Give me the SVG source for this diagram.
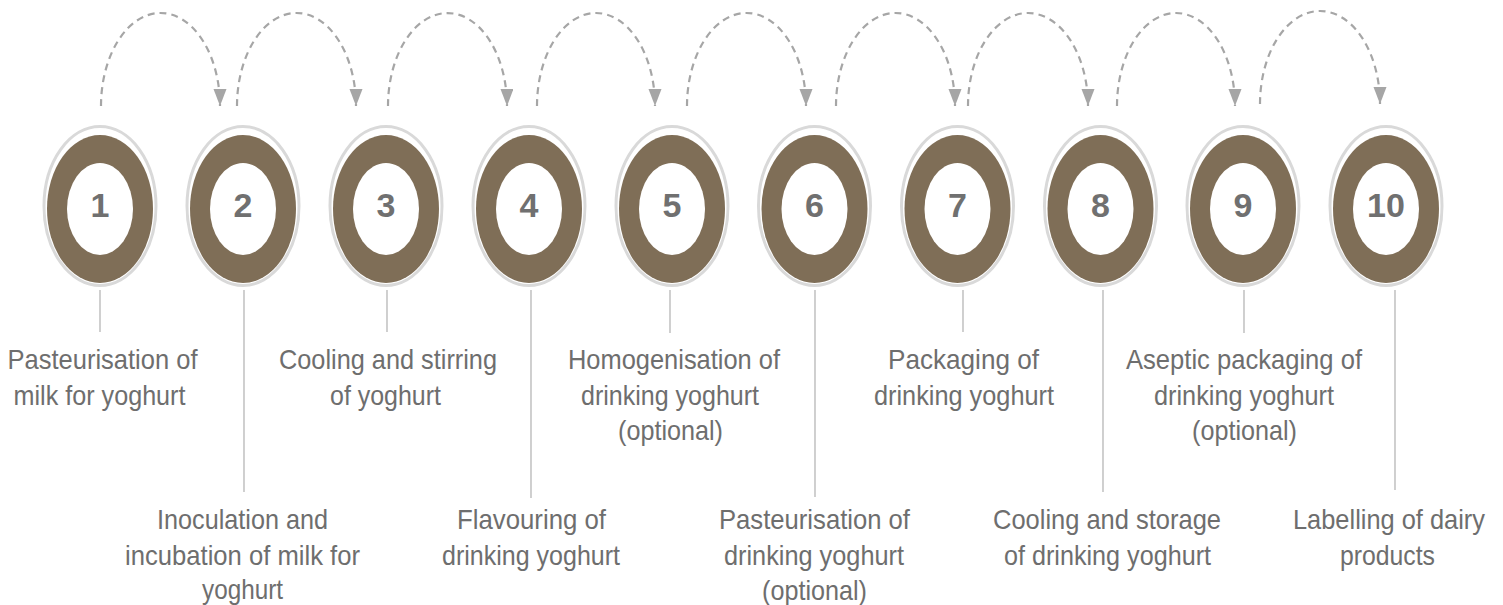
<svg xmlns="http://www.w3.org/2000/svg" width="1503" height="605" viewBox="0 0 1503 605">
<style>
.ring{fill:#ffffff;stroke:#d9d9d9;stroke-width:3}
.band{fill:#7f6e57}
.hole{fill:#ffffff}
.num{font-family:"Liberation Sans",Arial,sans-serif;font-weight:bold;font-size:34px;fill:#707070;text-anchor:middle}
.lbl{font-family:"Liberation Sans",Arial,sans-serif;font-size:28px;fill:#6e6e6e;text-anchor:middle}
.lead{stroke:#c4c4c4;stroke-width:1.6;fill:none}
.arc{fill:none;stroke:#a6a6a6;stroke-width:2.2;stroke-dasharray:7 5}
</style>
<defs>
<marker id="ah" markerUnits="userSpaceOnUse" markerWidth="18" markerHeight="14" refX="17" refY="6.5" orient="auto">
<path d="M0,0 L17,6.5 L0,13 Z" fill="#a6a6a6"/>
</marker>
<g id="disc">
<ellipse class="ring" cx="0" cy="-3" rx="56" ry="79.5"/>
<ellipse class="band" cx="0" cy="0" rx="53" ry="74"/>
<ellipse class="hole" cx="0" cy="0" rx="33" ry="46"/>
</g>
</defs>
<g id="connectors">
<path class="arc" d="M101,106 A59.5,93 0 0 1 220,106" marker-end="url(#ah)"/>
<path class="arc" d="M237,106 A59.5,93 0 0 1 356,106" marker-end="url(#ah)"/>
<path class="arc" d="M388,106 A59.5,93 0 0 1 507,106" marker-end="url(#ah)"/>
<path class="arc" d="M537,106 A59,93 0 0 1 655,106" marker-end="url(#ah)"/>
<path class="arc" d="M687,106 A59.5,93 0 0 1 806,106" marker-end="url(#ah)"/>
<path class="arc" d="M836,106 A59.5,93 0 0 1 955,106" marker-end="url(#ah)"/>
<path class="arc" d="M968,106 A60,93 0 0 1 1088,106" marker-end="url(#ah)"/>
<path class="arc" d="M1117,106 A59,93 0 0 1 1235,106" marker-end="url(#ah)"/>
<path class="arc" d="M1260,104 A60,93 0 0 1 1380,104" marker-end="url(#ah)"/>
<line class="lead" x1="100" y1="290" x2="100" y2="332"/>
<line class="lead" x1="244" y1="290" x2="244" y2="492"/>
<line class="lead" x1="387" y1="290" x2="387" y2="332"/>
<line class="lead" x1="531" y1="290" x2="531" y2="498"/>
<line class="lead" x1="670" y1="290" x2="670" y2="333"/>
<line class="lead" x1="815" y1="290" x2="815" y2="497"/>
<line class="lead" x1="963" y1="290" x2="963" y2="332"/>
<line class="lead" x1="1103" y1="290" x2="1103" y2="492"/>
<line class="lead" x1="1244" y1="290" x2="1244" y2="333"/>
<line class="lead" x1="1395" y1="290" x2="1395" y2="490"/>
</g>
<g id="node1">
<use href="#disc" x="100" y="209"/>
<text class="num" x="100" y="217">1</text>
<text class="lbl" x="102.5" y="369" textLength="190" lengthAdjust="spacingAndGlyphs">Pasteurisation of</text>
<text class="lbl" x="99.5" y="404.5" textLength="172" lengthAdjust="spacingAndGlyphs">milk for yoghurt</text>
</g>
<g id="node2">
<use href="#disc" x="243" y="209"/>
<text class="num" x="243" y="217">2</text>
<text class="lbl" x="242.5" y="529" textLength="171" lengthAdjust="spacingAndGlyphs">Inoculation and</text>
<text class="lbl" x="242.5" y="564.5" textLength="235" lengthAdjust="spacingAndGlyphs">incubation of milk for</text>
<text class="lbl" x="242.5" y="599" textLength="81" lengthAdjust="spacingAndGlyphs">yoghurt</text>
</g>
<g id="node3">
<use href="#disc" x="386" y="209"/>
<text class="num" x="386" y="217">3</text>
<text class="lbl" x="388" y="369" textLength="218" lengthAdjust="spacingAndGlyphs">Cooling and stirring</text>
<text class="lbl" x="385.5" y="404.5" textLength="111" lengthAdjust="spacingAndGlyphs">of yoghurt</text>
</g>
<g id="node4">
<use href="#disc" x="529" y="209"/>
<text class="num" x="529" y="217">4</text>
<text class="lbl" x="531.5" y="529" textLength="149" lengthAdjust="spacingAndGlyphs">Flavouring of</text>
<text class="lbl" x="531" y="564.5" textLength="178" lengthAdjust="spacingAndGlyphs">drinking yoghurt</text>
</g>
<g id="node5">
<use href="#disc" x="672" y="209"/>
<text class="num" x="672" y="217">5</text>
<text class="lbl" x="674" y="369" textLength="212" lengthAdjust="spacingAndGlyphs">Homogenisation of</text>
<text class="lbl" x="670" y="404.5" textLength="178" lengthAdjust="spacingAndGlyphs">drinking yoghurt</text>
<text class="lbl" x="670.5" y="440" textLength="105" lengthAdjust="spacingAndGlyphs">(optional)</text>
</g>
<g id="node6">
<use href="#disc" x="814.5" y="209"/>
<text class="num" x="814.5" y="217">6</text>
<text class="lbl" x="814.5" y="529" textLength="191" lengthAdjust="spacingAndGlyphs">Pasteurisation of</text>
<text class="lbl" x="814" y="564.5" textLength="180" lengthAdjust="spacingAndGlyphs">drinking yoghurt</text>
<text class="lbl" x="814.5" y="600" textLength="105" lengthAdjust="spacingAndGlyphs">(optional)</text>
</g>
<g id="node7">
<use href="#disc" x="957.5" y="209"/>
<text class="num" x="957.5" y="217">7</text>
<text class="lbl" x="963.5" y="369" textLength="151" lengthAdjust="spacingAndGlyphs">Packaging of</text>
<text class="lbl" x="964" y="404.5" textLength="180" lengthAdjust="spacingAndGlyphs">drinking yoghurt</text>
</g>
<g id="node8">
<use href="#disc" x="1100.5" y="209"/>
<text class="num" x="1100.5" y="217">8</text>
<text class="lbl" x="1107" y="529" textLength="228" lengthAdjust="spacingAndGlyphs">Cooling and storage</text>
<text class="lbl" x="1107.5" y="564.5" textLength="207" lengthAdjust="spacingAndGlyphs">of drinking yoghurt</text>
</g>
<g id="node9">
<use href="#disc" x="1243" y="209"/>
<text class="num" x="1243" y="217">9</text>
<text class="lbl" x="1244" y="369" textLength="236" lengthAdjust="spacingAndGlyphs">Aseptic packaging of</text>
<text class="lbl" x="1244" y="404.5" textLength="180" lengthAdjust="spacingAndGlyphs">drinking yoghurt</text>
<text class="lbl" x="1244.5" y="440" textLength="105" lengthAdjust="spacingAndGlyphs">(optional)</text>
</g>
<g id="node10">
<use href="#disc" x="1386" y="209"/>
<text class="num" x="1386" y="217">10</text>
<text class="lbl" x="1389" y="529" textLength="192" lengthAdjust="spacingAndGlyphs">Labelling of dairy</text>
<text class="lbl" x="1387.5" y="564.5" textLength="95" lengthAdjust="spacingAndGlyphs">products</text>
</g>
</svg>
